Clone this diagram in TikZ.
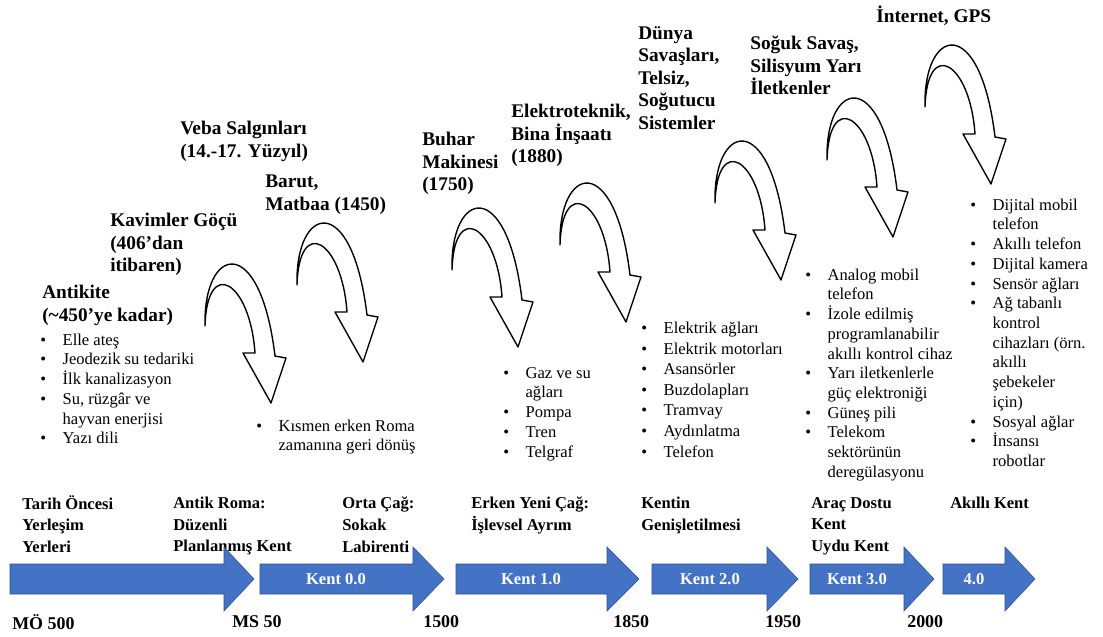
\documentclass[tikz,border=0pt]{standalone}
\usepackage{fontspec}
\setmainfont{Liberation Serif}

\definecolor{eraBlue}{RGB}{68,114,196}
\definecolor{eraEdge}{RGB}{47,82,143}

\tikzset{
  bendarrow/.pic={
    \draw[line width=1pt, fill=white, line join=round]
      (0,0) .. controls (-2,-80) and (55,-95) .. (70,30)
      -- (81,32) -- (66,77) -- (38,27) -- (50,27)
      .. controls (45,-45) and (2,-70) .. (0,0) -- cycle;
  }
}

\begin{document}
\begin{tikzpicture}[x=0.7246pt, y=-0.7246pt,
  event/.style={anchor=north west, inner sep=0pt, align=left, font=\fontsize{14}{16.3}\selectfont\bfseries},
  items/.style={anchor=north west, inner sep=0pt, font=\fontsize{12}{14.3}\selectfont},
  phase/.style={anchor=north west, inner sep=0pt, align=left, font=\fontsize{12}{15.6}\selectfont\bfseries},
  year/.style={anchor=west, inner sep=0pt, font=\fontsize{13}{15}\selectfont\bfseries},
  kent/.style={text=white, inner sep=0pt, font=\fontsize{12}{14}\selectfont\bfseries},
  era/.style={fill=eraBlue, draw=eraEdge, line width=0.4pt}]
  \useasboundingbox[fill=white] (0,0) rectangle (1103,636);

  % events above the curved arrows
  \node[event] (antik) at (42,285) {Antikite\\(\textasciitilde450’ye kadar)};
  \node[event] (kavim) at (110,213) {Kavimler Göçü\\(406’dan\\itibaren)};
  \node[event] (veba) at (180,121) {Veba Salgınları\\(14.-17. Yüzyıl)};
  \node[event] (barut) at (265,175) {Barut,\\Matbaa (1450)};
  \node[event] (buhar) at (422,132) {Buhar\\Makinesi\\(1750)};
  \node[event] (elektro) at (511,104) {Elektroteknik,\\Bina İnşaatı\\(1880)};
  \node[event] (dunya) at (638,26) {Dünya\\Savaşları,\\Telsiz,\\Soğutucu\\Sistemler};
  \node[event] (soguk) at (750,36) {Soğuk Savaş,\\Silisyum Yarı\\İletkenler};
  \node[event] (inet) at (876,6) {İnternet, GPS};

  % curved arrows
  \pic at (205,326) {bendarrow};
  \pic at (297,285) {bendarrow};
  \pic at (452,270) {bendarrow};
  \pic at (560,245) {bendarrow};
  \pic at (715,203) {bendarrow};
  \pic at (827,160) {bendarrow};
  \pic at (925,107) {bendarrow};

  % bullet lists
  \node[items] (l1) at (40,331) {\begin{tabular}{@{}l@{\hspace{12pt}}l@{}}
    \textbullet & Elle ateş\\
    \textbullet & Jeodezik su tedariki\\
    \textbullet & İlk kanalizasyon\\
    \textbullet & Su, rüzgâr ve\\
                & hayvan enerjisi\\
    \textbullet & Yazı dili\end{tabular}};
  \node[items] (l2) at (256,417) {\begin{tabular}{@{}l@{\hspace{12pt}}l@{}}
    \textbullet & Kısmen erken Roma\\
                & zamanına geri dönüş\end{tabular}};
  \node[items] (l3) at (503,364) {\begin{tabular}{@{}l@{\hspace{12pt}}l@{}}
    \textbullet & Gaz ve su\\
                & ağları\\
    \textbullet & Pompa\\
    \textbullet & Tren\\
    \textbullet & Telgraf\end{tabular}};
  \node[items, font=\fontsize{12}{14.9}\selectfont] (l4) at (641,319) {\begin{tabular}{@{}l@{\hspace{12pt}}l@{}}
    \textbullet & Elektrik ağları\\
    \textbullet & Elektrik motorları\\
    \textbullet & Asansörler\\
    \textbullet & Buzdolapları\\
    \textbullet & Tramvay\\
    \textbullet & Aydınlatma\\
    \textbullet & Telefon\end{tabular}};
  \node[items] (l5) at (805,266) {\begin{tabular}{@{}l@{\hspace{12pt}}l@{}}
    \textbullet & Analog mobil\\
                & telefon\\
    \textbullet & İzole edilmiş\\
                & programlanabilir\\
                & akıllı kontrol cihaz\\
    \textbullet & Yarı iletkenlerle\\
                & güç elektroniği\\
    \textbullet & Güneş pili\\
    \textbullet & Telekom\\
                & sektörünün\\
                & deregülasyonu\end{tabular}};
  \node[items] (l6) at (970,196) {\begin{tabular}{@{}l@{\hspace{12pt}}l@{}}
    \textbullet & Dijital mobil\\
                & telefon\\
    \textbullet & Akıllı telefon\\
    \textbullet & Dijital kamera\\
    \textbullet & Sensör ağları\\
    \textbullet & Ağ tabanlı\\
                & kontrol\\
                & cihazları (örn.\\
                & akıllı\\
                & şebekeler\\
                & için)\\
    \textbullet & Sosyal ağlar\\
    \textbullet & İnsansı\\
                & robotlar\end{tabular}};

  % city phases
  \node[phase] (p0) at (22,495) {Tarih Öncesi\\Yerleşim\\Yerleri};
  \node[phase] (p1) at (173,497) {Antik Roma:\\Düzenli\\Planlanmış Kent};
  \node[phase] (p2) at (342,497) {Orta Çağ:\\Sokak\\Labirenti};
  \node[phase] (p3) at (471,497) {Erken Yeni Çağ:\\İşlevsel Ayrım};
  \node[phase] (p4) at (641,497) {Kentin\\Genişletilmesi};
  \node[phase] (p5) at (811,497) {Araç Dostu\\Kent\\Uydu Kent};
  \node[phase] (p6) at (950,497) {Akıllı Kent};

  % timeline arrows
  \filldraw[era] (10,564) -- (224,564) -- (224,547) -- (254,579) -- (224,611) -- (224,594) -- (10,594) -- cycle;
  \filldraw[era] (260,564) -- (413,564) -- (413,547) -- (444,579) -- (413,611) -- (413,594) -- (260,594) -- cycle;
  \filldraw[era] (456,564) -- (607,564) -- (607,547) -- (639,579) -- (607,611) -- (607,594) -- (456,594) -- cycle;
  \filldraw[era] (652,564) -- (767,564) -- (767,547) -- (798,579) -- (767,611) -- (767,594) -- (652,594) -- cycle;
  \filldraw[era] (810,564) -- (904,564) -- (904,547) -- (934,579) -- (904,611) -- (904,594) -- (810,594) -- cycle;
  \filldraw[era] (943,564) -- (1005,564) -- (1005,547) -- (1035,579) -- (1005,611) -- (1005,594) -- (943,594) -- cycle;
  \node[kent] (k0) at (336,579) {Kent 0.0};
  \node[kent] (k1) at (531,579) {Kent 1.0};
  \node[kent] (k2) at (710,579) {Kent 2.0};
  \node[kent] (k3) at (857,579) {Kent 3.0};
  \node[kent] (k4) at (974,579) {4.0};

  % years
  \node[year] (y0) at (12,622) {MÖ 500};
  \node[year] (y1) at (232,622) {MS 50};
  \node[year] (y2) at (423,622) {1500};
  \node[year] (y3) at (613,622) {1850};
  \node[year] (y4) at (765,622) {1950};
  \node[year] (y5) at (907,622) {2000};
\end{tikzpicture}
\end{document}
